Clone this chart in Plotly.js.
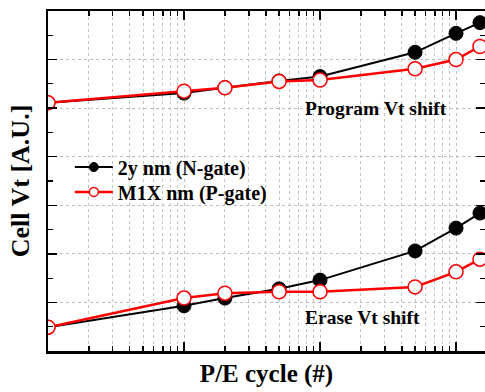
<!DOCTYPE html>
<html>
<head>
<meta charset="utf-8">
<script src="https://cdn.plot.ly/plotly-3.0.1.min.js"></script>
<style>html,body{margin:0;padding:0;background:#fff;}#chart{width:485px;height:392px;}</style>
</head>
<body>
<div id="chart"></div>
<script>
// P/E cycles
const cycles = [10, 100, 200, 500, 1000, 5000, 10000, 15000];
// 2y nm (N-gate)
const nProgram = [5.11, 5.31, 5.42, 5.56, 5.65, 6.15, 6.54, 6.76];
const nErase   = [0.49, 0.93, 1.09, 1.28, 1.46, 2.06, 2.53, 2.84];
// M1X nm (P-gate)
const pProgram = [5.11, 5.35, 5.42, 5.55, 5.58, 5.81, 6.00, 6.27];
const pErase   = [0.49, 1.09, 1.19, 1.22, 1.22, 1.32, 1.63, 1.89];

const seriesNames = ['2y nm (N-gate)', 'M1X nm (P-gate)'];
const annoTexts = ['Program Vt shift', 'Erase Vt shift'];

// minor tick positions of the log axis (2..9 in each decade)
const minorTicks = [];
[10, 100, 1000, 10000].forEach(function (d) {
  for (let k = 2; k <= 9; k++) minorTicks.push(k * d);
});

const fontFam = 'Liberation Serif, Times New Roman, serif';

const blackLine = {color: '#000000', width: 2};
const redLine = {color: '#ff0000', width: 2.5};
const blackMarker = {symbol: 'circle', size: 14, color: '#000000', line: {color: '#000000', width: 1}};
const redMarker = {symbol: 'circle', size: 14, color: '#ffffff', line: {color: '#ff0000', width: 1.5}};

const traces = [
  {x: cycles, y: nProgram, mode: 'lines+markers', line: blackLine, marker: blackMarker, showlegend: false, legendgroup: 'n'},
  {x: cycles, y: nErase, mode: 'lines+markers', line: blackLine, marker: blackMarker, showlegend: false, legendgroup: 'n'},
  {x: cycles, y: pProgram, mode: 'lines+markers', line: redLine, marker: redMarker, showlegend: false, legendgroup: 'p'},
  {x: cycles, y: pErase, mode: 'lines+markers', line: redLine, marker: redMarker, showlegend: false, legendgroup: 'p'},
  // legend entries (smaller markers, as in the original legend)
  {x: [null], y: [null], mode: 'lines+markers', name: '<b>' + seriesNames[0] + '</b>', legendgroup: 'n', legend: 'legend',
   line: blackLine, marker: {symbol: 'circle', size: 9, color: '#000', line: {color: '#000', width: 1}}},
  {x: [null], y: [null], mode: 'lines+markers', name: '<b>' + seriesNames[1] + '</b>', legendgroup: 'p', legend: 'legend2',
   line: redLine, marker: {symbol: 'circle', size: 9, color: '#fff', line: {color: '#ff0000', width: 1.5}}}
];

const legendBase = {
  xanchor: 'left', yanchor: 'middle',
  bgcolor: 'rgba(0,0,0,0)', borderwidth: 0,
  font: {family: fontFam, size: 20, color: '#000000'},
  itemwidth: 38, tracegroupgap: 0
};

const layout = {
  width: 485, height: 392,
  margin: {l: 48, r: 0, t: 11, b: 41, pad: 0},
  paper_bgcolor: '#ffffff', plot_bgcolor: '#ffffff',
  font: {family: fontFam, color: '#000000', size: 16},
  showlegend: true,
  legend: Object.assign({x: 0.05, y: 0.541}, legendBase),
  legend2: Object.assign({x: 0.05, y: 0.468}, legendBase),
  xaxis: {
    type: 'log', range: [1, 4.213],
    showticklabels: false,
    ticks: 'inside', ticklen: 9, tickwidth: 1.5, tickcolor: '#000',
    dtick: 1,
    showgrid: true, gridcolor: '#bdbdbd', griddash: 'dot', gridwidth: 1,
    minor: {tickmode: 'array', tickvals: minorTicks, ticks: 'inside', ticklen: 5, tickwidth: 1.2, tickcolor: '#000',
            showgrid: true, gridcolor: '#c4c4c4', griddash: 'dot', gridwidth: 1},
    showline: true, linecolor: '#000', linewidth: 2.5, mirror: 'allticks',
    zeroline: false,
    title: {text: '<b>P/E cycle (#)</b>', font: {family: fontFam, size: 25, color: '#000'}, standoff: 12}
  },
  yaxis: {
    range: [0, 7],
    showticklabels: false,
    dtick: 1,
    ticks: 'inside', ticklen: 9, tickwidth: 1.5, tickcolor: '#000',
    minor: {dtick: 0.5, ticks: 'inside', ticklen: 5, tickwidth: 1.2, tickcolor: '#000', showgrid: false},
    showgrid: true, gridcolor: '#bdbdbd', griddash: 'dot', gridwidth: 1,
    showline: true, linecolor: '#000', linewidth: 2.5, mirror: 'allticks',
    zeroline: false,
    title: {text: '<b>Cell Vt [A.U.]</b>', font: {family: fontFam, size: 26, color: '#000'}, standoff: 9}
  },
  annotations: [
    {x: Math.log10(750), y: 5.0, xref: 'x', yref: 'y', text: '<b>' + annoTexts[0] + '</b>', showarrow: false,
     xanchor: 'left', yanchor: 'middle', font: {family: fontFam, size: 19.5, color: '#000'}},
    {x: Math.log10(750), y: 0.68, xref: 'x', yref: 'y', text: '<b>' + annoTexts[1] + '</b>', showarrow: false,
     xanchor: 'left', yanchor: 'middle', font: {family: fontFam, size: 19.5, color: '#000'}}
  ]
};

Plotly.newPlot('chart', traces, layout, {displayModeBar: false, staticPlot: true});
</script>
</body>
</html>
